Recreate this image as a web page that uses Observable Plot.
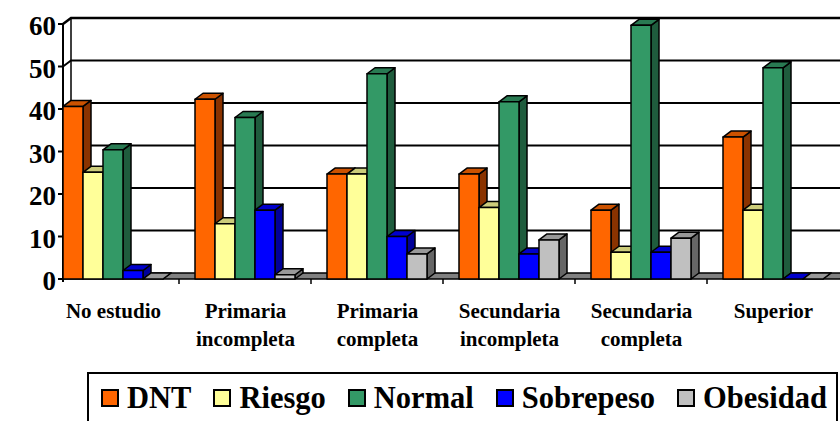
<!DOCTYPE html>
<html>
<head>
<meta charset="utf-8">
<script src="https://cdn.jsdelivr.net/npm/d3@7"></script>
<script src="https://cdn.jsdelivr.net/npm/@observablehq/plot@0.6"></script>
<style>
  html, body { margin: 0; padding: 0; background: #fff; }
  #wrap { position: relative; width: 840px; height: 421px; overflow: hidden; background: #fff;
          font-family: "Liberation Serif", "Times New Roman", serif; }
  #chart svg { display: block; }
  #legend { position: absolute; left: 87px; top: 372px; height: 70px;
            border: 2px solid #000; display: flex; align-items: center;
            padding-left: 12px; box-sizing: border-box; width: 751px; }
  #legend .item { display: flex; align-items: center; margin-right: 22px; white-space: nowrap;
                  font-weight: bold; font-size: 30.5px; line-height: 1; position: relative; top: -9px; }
  #legend .sw { width: 18px; height: 18px; border: 2px solid #000; box-sizing: border-box; margin-right: 8px; }
</style>
</head>
<body>
<div id="wrap">
  <div id="chart"></div>
  <div id="legend"></div>
</div>
<script>
// ---- data ----
const categories = ["No estudio", "Primaria incompleta", "Primaria completa", "Secundaria incompleta", "Secundaria completa", "Superior"];
const categoryLabels = ["No estudio", "Primaria\nincompleta", "Primaria\ncompleta", "Secundaria\nincompleta", "Secundaria\ncompleta", "Superior"];
const series = ["DNT", "Riesgo", "Normal", "Sobrepeso", "Obesidad"];
const dnt       = [40.6, 42.3, 24.7, 24.7, 16.2, 33.4];
const riesgo    = [25.1, 13.0, 24.7, 16.8, 6.3, 16.2];
const normal    = [30.4, 38.0, 48.3, 41.7, 59.7, 49.7];
const sobrepeso = [2.0, 16.2, 10.0, 5.9, 6.3, 0];
const obesidad  = [0, 1.0, 5.9, 9.2, 9.6, 0];
const yTicks = [0, 10, 20, 30, 40, 50, 60];

const frontColors = ["#ff6600", "#ffff99", "#339966", "#0000ff", "#c0c0c0"];
const topColors   = ["#cc5200", "#cccc7a", "#297a52", "#0000cc", "#999999"];
const sideColors  = ["#8a3300", "#99995c", "#1f5c3d", "#000099", "#666666"];

const seriesValues = [dnt, riesgo, normal, sobrepeso, obesidad];
const data = [];
categories.forEach((c, ci) => series.forEach((s, si) => data.push({cat: c, series: s, si, value: seriesValues[si][ci]})));

const DX = 8, DY = -6;
const W = 840, H = 365;

function bars3d(index, scales, values) {
  const g = d3.create("svg:g").attr("stroke", "#000").attr("stroke-width", 1.5).attr("stroke-linejoin", "round");
  const bw = scales.x.bandwidth();
  for (const i of index) {
    const x0 = values.x[i], x1 = x0 + bw;
    const yb = values.y1[i], yt = values.y2[i];
    const k = data[i].si;
    g.append("path")
      .attr("d", `M${x1},${yb}L${x1 + DX},${yb + DY}L${x1 + DX},${yt + DY}L${x1},${yt}Z`)
      .attr("fill", sideColors[k]);
    g.append("path")
      .attr("d", `M${x0},${yt}L${x0 + DX},${yt + DY}L${x1 + DX},${yt + DY}L${x1},${yt}Z`)
      .attr("fill", topColors[k]);
    g.append("rect")
      .attr("x", x0).attr("y", yt).attr("width", bw).attr("height", Math.max(0, yb - yt))
      .attr("fill", frontColors[k]);
  }
  return g.node();
}

function walls(index, scales, values, dims) {
  const ml = dims.marginLeft, xr = dims.width;
  const y = scales.y, fx = scales.fx;
  const y0 = y(0);
  const g = d3.create("svg:g").attr("fill", "none").attr("stroke", "#000");
  for (const t of yTicks) {
    if (t === 0) continue;
    g.append("path")
      .attr("d", `M${ml},${y(t)}L${ml + DX},${y(t) + DY}L${xr + DX},${y(t) + DY}`)
      .attr("stroke-width", t === 60 ? 2.5 : 2);
  }
  g.append("path").attr("d", `M${ml + DX},${y(60) + DY}V${y0 + DY}`).attr("stroke-width", 1.5);
  g.append("path")
    .attr("d", `M${ml},${y0}L${ml + DX},${y0 + DY}L${xr + DX},${y0 + DY}L${xr},${y0}Z`)
    .attr("fill", "#808080").attr("stroke-width", 1.5);
  g.append("path").attr("d", `M${ml},${y(60)}V${y0 + 3}`).attr("stroke-width", 2);
  for (const t of yTicks) {
    g.append("path").attr("d", `M${ml - 5},${y(t)}H${ml}`).attr("stroke-width", 2);
    g.append("text")
      .attr("x", ml - 7).attr("y", y(t)).attr("dy", "0.42em")
      .attr("text-anchor", "end").attr("stroke", "none").attr("fill", "#000")
      .attr("font-size", 27).attr("font-weight", "bold")
      .text(`${t}`);
  }
  if (fx) {
    const bwf = fx.bandwidth();
    for (let k = 1; k < categories.length; ++k) {
      const xb = (fx(categories[k - 1]) + bwf + fx(categories[k])) / 2;
      g.append("path").attr("d", `M${xb},${y0}V${y0 + 5}`).attr("stroke-width", 1.5);
    }
  }
  return g.node();
}

const plot = Plot.plot({
  width: W,
  height: H,
  marginLeft: 45,
  marginRight: 0,
  marginTop: 24,
  marginBottom: H - 279,
  style: {fontFamily: "'Liberation Serif', 'Times New Roman', serif", background: "#fff", color: "#000", overflow: "visible"},
  fx: {domain: categories, paddingInner: 0.245, paddingOuter: 0.1226, label: null},
  x: {domain: series, padding: 0, axis: null},
  y: {domain: [0, 60], axis: null},
  marks: [
    Plot.frame({facet: "super", stroke: "none", render: walls}),
    Plot.barY(data, {fx: "cat", x: "series", y: "value", fill: "series", render: bars3d}),
    Plot.axisFx({
      anchor: "bottom", tickSize: 0, tickPadding: 19, label: null,
      tickFormat: d => categoryLabels[categories.indexOf(d)],
      fontSize: 21, fontWeight: "bold", lineHeight: 1.33, fill: "#000"
    })
  ]
});
document.getElementById("chart").appendChild(plot);

// legend
const legend = d3.select("#legend");
series.forEach((s, i) => {
  const item = legend.append("div").attr("class", "item");
  item.append("div").attr("class", "sw").style("background", frontColors[i]);
  item.append("span").text(s);
});
</script>
</body>
</html>
